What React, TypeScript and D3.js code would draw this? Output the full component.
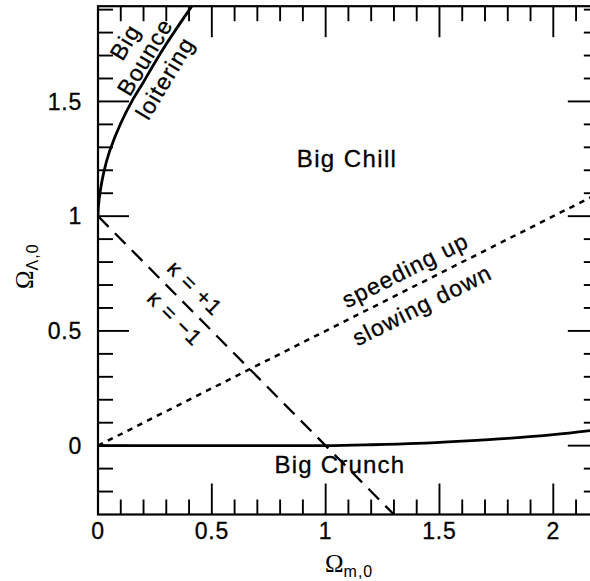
import React from 'react';
import * as d3 from 'd3';

// values
const bounceCurve: [number, number][] = [
  [0, 1], [0.002, 1.045], [0.01, 1.11], [0.025, 1.19], [0.05, 1.28], [0.1, 1.405],
  [0.154, 1.51], [0.2, 1.585], [0.25, 1.67], [0.3, 1.75], [0.35, 1.825], [0.412, 1.915],
];
const crunchCurve: [number, number][] = [
  [0, 0], [0.5, 0], [1, 0], [1.2, 0.004], [1.4, 0.01], [1.6, 0.02],
  [1.8, 0.032], [2.0, 0.048], [2.2, 0.07],
];
const flatLine: [number, number][] = [[0, 1], [1.3, -0.3]];
const accelLine: [number, number][] = [[0, 0], [2.2, 1.1]];

const xMajor = [0, 0.5, 1, 1.5, 2];
const xMajorLabels = ['0', '0.5', '1', '1.5', '2'];
const yMajor = [0, 0.5, 1, 1.5];
const yMajorLabels = ['0', '0.5', '1', '1.5'];
const xMinor = d3.range(1, 22).map(d => d / 10);
const yMinor = d3.range(-2, 20).map(d => d / 10);

const W = 590;
const H = 581;

const x = d3.scaleLinear().domain([0, 2.2]).range([98, 98 + 2.2 * 227.65]);
const y = d3.scaleLinear().domain([-0.3, 1.915]).range([514.5, 6.2]);

const sans = '"Liberation Sans", Arial, sans-serif';
const serif = '"Liberation Serif", "Times New Roman", serif';

const isMajor = (v: number) => Math.abs(v * 2 - Math.round(v * 2)) < 1e-6;

export default function App() {
  const line = d3.line<[number, number]>().x(d => x(d[0])).y(d => y(d[1]));
  const smooth = d3.line<[number, number]>().x(d => x(d[0])).y(d => y(d[1])).curve(d3.curveCatmullRom);

  const [x0, x1] = x.range();
  const [y0, y1] = y.range(); // y0 bottom, y1 top

  const label = (mx: number, my: number, angle: number, text: string, size = 23, spacing = 1.2) => (
    <text
      transform={`translate(${x(mx)},${y(my)}) rotate(${angle})`}
      textAnchor="middle"
      dy="0.35em"
      fontFamily={sans}
      fontSize={size}
      letterSpacing={spacing}
      fill="#000"
      stroke="#000"
      strokeWidth={0.3}
    >
      {text}
    </text>
  );

  return (
    <svg width={W} height={H} style={{ position: 'absolute', left: 0, top: 0, background: '#fff' }}>
      <defs>
        <clipPath id="plot">
          <rect x={x0} y={y1} width={x1 - x0} height={y0 - y1} />
        </clipPath>
      </defs>

      {/* frame */}
      <rect x={x0} y={y1} width={x1 - x0} height={y0 - y1} fill="none" stroke="#000" strokeWidth={2.2} />

      {/* ticks, all pointing inward */}
      <g stroke="#000" strokeWidth={1.9}>
        {xMinor.map(v => {
          const len = isMajor(v) ? 31 : 15;
          return (
            <g key={'x' + v}>
              <line x1={x(v)} x2={x(v)} y1={y0} y2={y0 - len} />
              <line x1={x(v)} x2={x(v)} y1={y1} y2={y1 + len} />
            </g>
          );
        })}
        {yMinor.map(v => {
          const len = isMajor(v) ? 31 : 15;
          return (
            <g key={'y' + v}>
              <line x1={x0} x2={x0 + len} y1={y(v)} y2={y(v)} />
              <line x1={x1} x2={x1 - len} y1={y(v)} y2={y(v)} />
            </g>
          );
        })}
      </g>

      {/* tick labels */}
      <g fontFamily={sans} fontSize={23} letterSpacing={0.8} fill="#000" stroke="#000" strokeWidth={0.3}>
        {xMajor.map((v, i) => (
          <text key={v} x={x(v)} y={539} textAnchor="middle">{xMajorLabels[i]}</text>
        ))}
        {yMajor.map((v, i) => (
          <text key={v} x={82} y={y(v)} dy="0.36em" textAnchor="end">{yMajorLabels[i]}</text>
        ))}
      </g>

      {/* curves */}
      <g clipPath="url(#plot)" fill="none" stroke="#000">
        <path d={smooth(bounceCurve) ?? ''} strokeWidth={2.8} />
        <path d={smooth(crunchCurve) ?? ''} strokeWidth={2.8} />
        <path d={line(flatLine) ?? ''} strokeWidth={2.3} strokeDasharray="15,9" />
        <path d={line(accelLine) ?? ''} strokeWidth={2.5} strokeDasharray="5.5,5.5" />
      </g>

      {/* region labels */}
      {label(0.119, 1.759, -59, 'Big')}
      {label(0.206, 1.694, -59, 'Bounce')}
      {label(0.294, 1.602, -59, 'loitering')}
      {label(0.426, 0.687, 45, 'κ = +1', 22, 1)}
      {label(0.338, 0.556, 45, 'κ = −1', 22, 1)}
      {label(1.349, 0.765, -26.75, 'speeding up')}
      {label(1.423, 0.613, -26.75, 'slowing down')}

      <text x={x(1.094)} y={167} textAnchor="middle" fontFamily={sans} fontSize={24} letterSpacing={1.4} stroke="#000" strokeWidth={0.3}>Big Chill</text>
      <text x={x(1.063)} y={473} textAnchor="middle" fontFamily={sans} fontSize={24} letterSpacing={1.2} stroke="#000" strokeWidth={0.3}>Big Crunch</text>

      {/* axis titles */}
      <text x={325} y={572} fontFamily={serif} fontSize={25}>
        Ω<tspan fontFamily={sans} fontSize={16} dy={5} letterSpacing={1}>m,0</tspan>
      </text>
      <text transform="translate(33,289) rotate(-90)" fontFamily={serif} fontSize={25}>
        Ω<tspan fontFamily={sans} fontSize={16} dy={5} letterSpacing={1}>Λ,0</tspan>
      </text>
    </svg>
  );
}
